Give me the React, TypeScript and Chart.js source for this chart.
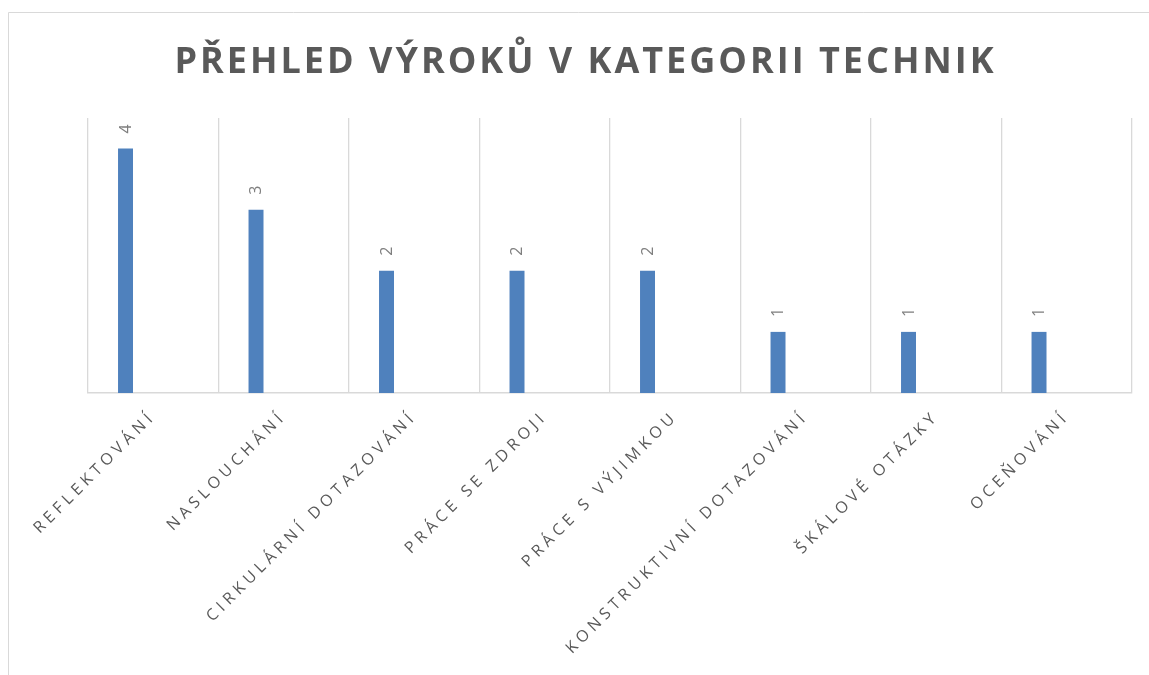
import React, { useEffect, useRef } from "react";
import { Chart, registerables } from "chart.js";

Chart.register(...registerables);

const TITLE = "PŘEHLED VÝROKŮ V KATEGORII TECHNIK";
const categories = [
  "REFLEKTOVÁNÍ",
  "NASLOUCHÁNÍ",
  "CIRKULÁRNÍ DOTAZOVÁNÍ",
  "PRÁCE SE ZDROJI",
  "PRÁCE S VÝJIMKOU",
  "KONSTRUKTIVNÍ DOTAZOVÁNÍ",
  "ŠKÁLOVÉ OTÁZKY",
  "OCEŇOVÁNÍ",
];
const counts = [4, 3, 2, 2, 2, 1, 1, 1];
const emptySeries: (number | null)[] = [null, null, null, null, null, null, null, null];

const FONT = "'Open Sans', 'Noto Sans', sans-serif";

const decorPlugin = {
  id: "decor",
  beforeDraw(chart: any) {
    const ctx = chart.ctx as CanvasRenderingContext2D;
    const w = chart.width;
    const h = chart.height;
    ctx.save();
    ctx.fillStyle = "#ffffff";
    ctx.fillRect(0, 0, w, h);
    ctx.strokeStyle = "#d9d9d9";
    ctx.lineWidth = 1;
    ctx.beginPath();
    ctx.moveTo(8.5, h);
    ctx.lineTo(8.5, 12.5);
    ctx.lineTo(w, 12.5);
    ctx.stroke();
    ctx.restore();
  },
  afterDraw(chart: any) {
    const ctx = chart.ctx as CanvasRenderingContext2D;
    const area = chart.chartArea;
    const xScale = chart.scales.x;
    ctx.save();
    // title
    ctx.fillStyle = "#595959";
    ctx.font = `bold 36px ${FONT}`;
    const tsp = 3;
    (ctx as any).letterSpacing = tsp + "px";
    ctx.textAlign = "center";
    ctx.textBaseline = "alphabetic";
    ctx.fillText(TITLE, 584 + tsp / 2, 73);

    // x labels
    ctx.font = `16px ${FONT}`;
    const sp = 4.5;
    (ctx as any).letterSpacing = sp + "px";
    ctx.textAlign = "right";
    ctx.textBaseline = "middle";
    categories.forEach((c, i) => {
      const x = xScale.getPixelForValue(i);
      ctx.save();
      ctx.translate(x - 3, area.bottom + 24);
      ctx.rotate(-Math.PI / 4);
      ctx.fillText(c, sp, 0);
      ctx.restore();
    });

    // data labels
    const meta = chart.getDatasetMeta(0);
    ctx.font = `16px ${FONT}`;
    (ctx as any).letterSpacing = "0px";
    ctx.fillStyle = "#7f7f7f";
    ctx.textAlign = "left";
    ctx.textBaseline = "middle";
    meta.data.forEach((bar: any, i: number) => {
      ctx.save();
      ctx.translate(bar.x + 0.5, bar.y - 15);
      ctx.rotate(-Math.PI / 2);
      ctx.fillText(String(counts[i]), 0, 0);
      ctx.restore();
    });
    ctx.restore();
  },
};

export default function App() {
  const ref = useRef<HTMLCanvasElement | null>(null);
  useEffect(() => {
    if (!ref.current) return;
    const chart = new Chart(ref.current, {
      type: "bar",
      data: {
        labels: categories,
        datasets: [
          {
            label: "Počet",
            data: counts,
            backgroundColor: "#4f81bd",
            categoryPercentage: 0.85,
            barPercentage: 0.27,
          },
          {
            label: "",
            data: emptySeries,
            backgroundColor: "#c0504d",
            categoryPercentage: 0.85,
            barPercentage: 0.27,
          },
        ],
      },
      options: {
        animation: false,
        responsive: false,
        maintainAspectRatio: false,
        layout: { padding: { left: 88, right: 17, top: 118, bottom: 282 } },
        plugins: {
          legend: { display: false },
          title: { display: false },
          tooltip: { enabled: false },
        },
        scales: {
          x: {
            display: true,
            ticks: { display: false },
            grid: { color: "#d9d9d9", lineWidth: 1.3, drawTicks: false, offset: true },
            border: { display: true, color: "#d9d9d9", width: 1.5 },
          },
          y: {
            display: false,
            min: 0,
            max: 4.5,
          },
        },
      },
      plugins: [decorPlugin],
    });
    return () => chart.destroy();
  }, []);
  return (
    <div style={{ position: "fixed", left: 0, top: 0, width: 1149, height: 675 }}>
      <canvas ref={ref} width={1149} height={675} style={{ width: 1149, height: 675, display: "block" }} />
    </div>
  );
}
